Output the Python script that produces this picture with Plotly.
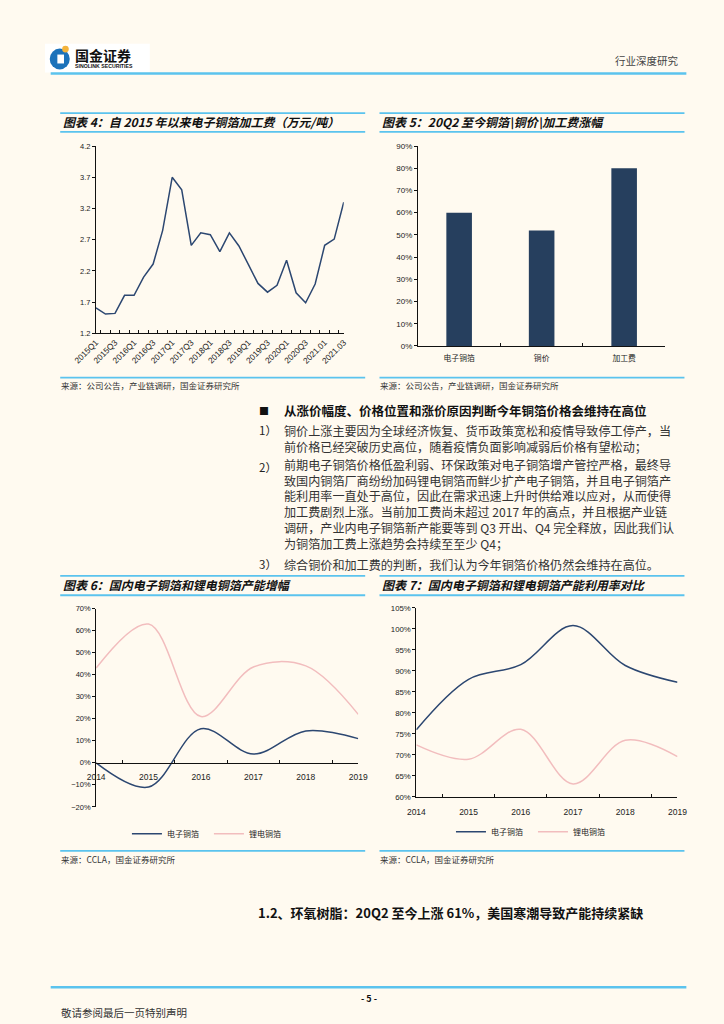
import plotly.graph_objects as go

W, H = 724, 1024
BG = "#FFFAF0"
RULE = "#5BC3EE"
NAVY = "#2C4771"
PINK = "#F2BDBE"
BAR = "#263F5E"
CJK = "Noto Sans CJK SC"
NUM = "Liberation Sans"


def px(x):
    return x / W


def py(y):
    return 1 - y / H


# ---------------- data ----------------
fee_quarters = ["2015Q1", "2015Q2", "2015Q3", "2015Q4", "2016Q1", "2016Q2", "2016Q3", "2016Q4",
                "2017Q1", "2017Q2", "2017Q3", "2017Q4", "2018Q1", "2018Q2", "2018Q3", "2018Q4",
                "2019Q1", "2019Q2", "2019Q3", "2019Q4", "2020Q1", "2020Q2", "2020Q3", "2020Q4",
                "2021.01", "2021.02", "2021.03"]
fee_values = [1.61, 1.51, 1.52, 1.81, 1.81, 2.10, 2.31, 2.85, 3.70, 3.50, 2.61, 2.81, 2.78, 2.51,
              2.81, 2.60, 2.30, 2.00, 1.86, 1.97, 2.37, 1.85, 1.69, 1.99, 2.61, 2.71, 3.30]
fee_ticks = [1.2, 1.7, 2.2, 2.7, 3.2, 3.7, 4.2]

rise_items = ["电子铜箔", "铜价", "加工费"]
rise_values = [0.60, 0.52, 0.80]

years = ["2014", "2015", "2016", "2017", "2018", "2019"]
growth_electronic = [0.0, -0.11, 0.155, 0.04, 0.145, 0.11]
growth_lithium = [0.43, 0.63, 0.21, 0.435, 0.44, 0.22]

util_electronic = [0.76, 0.88, 0.915, 1.008, 0.913, 0.873]
util_lithium = [0.724, 0.69, 0.761, 0.631, 0.735, 0.696]

series_names = ["电子铜箔", "锂电铜箔"]

fig = go.Figure()

# Chart 4
fig.add_trace(go.Scatter(x=fee_quarters, y=fee_values, mode="lines", line=dict(color=NAVY, width=1.5),
                         xaxis="x", yaxis="y", showlegend=False))
# Chart 5
fig.add_trace(go.Bar(x=rise_items, y=rise_values, marker=dict(color=BAR, line=dict(width=0)), width=0.31,
                     xaxis="x2", yaxis="y2", showlegend=False))
# Chart 6
fig.add_trace(go.Scatter(x=years, y=growth_electronic, mode="lines", name=series_names[0],
                         line=dict(color=NAVY, width=1.5, shape="spline", smoothing=1),
                         xaxis="x3", yaxis="y3", legend="legend"))
fig.add_trace(go.Scatter(x=years, y=growth_lithium, mode="lines", name=series_names[1],
                         line=dict(color=PINK, width=1.5, shape="spline", smoothing=1),
                         xaxis="x3", yaxis="y3", legend="legend"))
# Chart 7
fig.add_trace(go.Scatter(x=years, y=util_electronic, mode="lines", name=series_names[0],
                         line=dict(color=NAVY, width=1.5, shape="spline", smoothing=1),
                         xaxis="x4", yaxis="y4", legend="legend2"))
fig.add_trace(go.Scatter(x=years, y=util_lithium, mode="lines", name=series_names[1],
                         line=dict(color=PINK, width=1.5, shape="spline", smoothing=1),
                         xaxis="x4", yaxis="y4", legend="legend2"))


def tf(size, family=NUM):
    return dict(family=family, size=size, color="#222")


axis_common = dict(showline=True, linecolor="#111", linewidth=1, showgrid=False, zeroline=False,
                   tickcolor="#111", ticklen=3, fixedrange=True)

fig.update_layout(
    xaxis=dict(domain=[px(75.5), px(335.5)], anchor="y", type="category",
               tickvals=fee_quarters, ticktext=[q if i % 2 == 0 else "" for i, q in enumerate(fee_quarters)],
               tickangle=-45, ticks="inside", tickson="boundaries", tickfont=tf(8.3), **axis_common),
    yaxis=dict(domain=[py(332.3), py(143.3)], anchor="x", range=[1.2, 4.2], tickvals=fee_ticks,
               ticktext=[f"{v:.1f}" for v in fee_ticks], ticks="outside", tickfont=tf(7.5), **axis_common),
    xaxis2=dict(domain=[px(413.3), px(673)], anchor="y2", type="category", ticks="inside",
                tickson="boundaries", tickfont=tf(7.8, CJK), ticklabelstandoff=5, **axis_common),
    yaxis2=dict(domain=[py(345), py(143.3)], anchor="x2", range=[0, 0.9], dtick=0.1, tickformat=".0%",
                ticks="outside", tickfont=tf(8), **axis_common),
    xaxis3=dict(domain=[px(75.7), px(350.7)], anchor="free", position=py(765.7), type="category",
                ticks="inside", tickson="boundaries", tickfont=tf(8.5), ticklabelstandoff=6, **axis_common),
    yaxis3=dict(domain=[py(810), py(610)], anchor="x3", range=[-0.2, 0.7], dtick=0.1, tickformat=".0%",
                ticks="outside", tickfont=tf(7.5), **axis_common),
    xaxis4=dict(domain=[px(411.7), px(685.7)], anchor="y4", type="category", ticks="inside",
                tickson="boundaries", tickfont=tf(8.5), ticklabelstandoff=7, **axis_common),
    yaxis4=dict(domain=[py(800), py(609.3)], anchor="x4", range=[0.6, 1.05], dtick=0.05, tickformat=".0%",
                ticks="outside", tickfont=tf(7.8), **axis_common),
)

legend_common = dict(orientation="h", bgcolor="rgba(0,0,0,0)", font=dict(family=CJK, size=8, color="#222"),
                     entrywidth=37, entrywidthmode="pixels", itemwidth=30, yanchor="middle", xanchor="left",
                     tracegroupgap=0)
fig.update_layout(
    legend=dict(x=px(108), y=py(837), **legend_common),
    legend2=dict(x=px(448), y=py(835), **legend_common),
)

# ---------------- rules ----------------
shapes = []


def hline(x0, x1, y, w=1.8, color=RULE):
    shapes.append(dict(type="line", xref="paper", yref="paper", x0=px(x0), x1=px(x1), y0=py(y), y1=py(y),
                       line=dict(color=color, width=w)))


hline(28, 695, 70, 2.5)
for (a, b) in [(38, 358), (373, 693)]:
    hline(a, b, 110)
    hline(a, b, 129)
    hline(a, b, 377)
    hline(a, b, 577)
    hline(a, b, 596.5)
    hline(a, b, 854.3)
hline(28, 695, 992, 2.5)

# logo
shapes.append(dict(type="rect", xref="paper", yref="paper", x0=px(22), x1=px(132), y0=py(69), y1=py(40),
                   fillcolor="white", line=dict(width=0), layer="below"))
shapes.append(dict(type="circle", xref="paper", yref="paper", x0=px(27), x1=px(48), y0=py(66), y1=py(45),
                   fillcolor="#1B72BA", line=dict(width=0)))
shapes.append(dict(type="rect", xref="paper", yref="paper", x0=px(35), x1=px(42), y0=py(60), y1=py(51),
                   fillcolor="white", line=dict(width=0)))
shapes.append(dict(type="circle", xref="paper", yref="paper", x0=px(40), x1=px(47), y0=py(49), y1=py(42),
                   fillcolor="#F4B33A", line=dict(width=0)))
fig.update_layout(shapes=shapes)

# ---------------- text ----------------
ann = []


def text(x, y, s, size=9, color="#333", bold=False, italic=False, anchor="left", family=CJK):
    ann.append(dict(xref="paper", yref="paper", x=px(x), y=py(y), text=s, showarrow=False,
                    xanchor=anchor, yanchor="middle", borderpad=0, align="left",
                    font=dict(family=family, size=size, color=color, weight="bold" if bold else "normal",
                              style="italic" if italic else "normal")))


# header
text(52, 51, "国金证券", 14, "#111", bold=True)
text(52, 63, "SINOLINK SECURITIES", 5.2, "#111", bold=True, family=NUM)
text(688, 57, "行业深度研究", 10.5, "#444", anchor="right")

# chart titles
text(40, 119, "图表 4：自 2015 年以来电子铜箔加工费（万元/吨）", 12, "#111", bold=True, italic=True)
text(375, 119, "图表 5：20Q2 至今铜箔\\铜价\\加工费涨幅", 12, "#111", bold=True, italic=True)
text(40, 586, "图表 6：国内电子铜箔和锂电铜箔产能增幅", 12, "#111", bold=True, italic=True)
text(375, 586, "图表 7：国内电子铜箔和锂电铜箔产能利用率对比", 12, "#111", bold=True, italic=True)

# sources
text(38, 384, "来源：公司公告，产业链调研，国金证券研究所", 8.5)
text(373, 384, "来源：公司公告，产业链调研，国金证券研究所", 8.5)
text(38, 863, "来源：CCLA，国金证券研究所", 8.5)
text(373, 863, "来源：CCLA，国金证券研究所", 8.5)

# body text
text(246, 410, "■", 10, "#111")
text(272, 410, "从涨价幅度、价格位置和涨价原因判断今年铜箔价格会维持在高位", 12.5, "#111", bold=True)
paragraphs = [
    (438, "1）", ["铜价上涨主要因为全球经济恢复、货币政策宽松和疫情导致停工停产，当",
                 "前价格已经突破历史高位，随着疫情负面影响减弱后价格有望松动；"], 430),
    (504.5, "2）", ["前期电子铜箔价格低盈利弱、环保政策对电子铜箔增产管控严格，最终导",
                   "致国内铜箔厂商纷纷加码锂电铜箔而鲜少扩产电子铜箔，并且电子铜箔产",
                   "能利用率一直处于高位，因此在需求迅速上升时供给难以应对，从而使得",
                   "加工费剧烈上涨。当前加工费尚未超过 2017 年的高点，并且根据产业链",
                   "调研，产业内电子铜箔新产能要等到 Q3 开出、Q4 完全释放，因此我们认",
                   "为铜箔加工费上涨趋势会持续至至少 Q4；"], 467),
    (565, "3）", ["综合铜价和加工费的判断，我们认为今年铜箔价格仍然会维持在高位。"], 565),
]
for yc, num, lines, yfirst in paragraphs:
    text(246, yfirst, num, 11.5, "#222")
    text(272, yc, "<br>".join(lines), 12.1, "#333")

text(245, 917, "1.2、环氧树脂：20Q2 至今上涨 61%，美国寒潮导致产能持续紧缺", 13, "#111", bold=True)
text(362, 1003, "- 5 -", 9, "#111", bold=True, anchor="center")
text(38, 1017, "敬请参阅最后一页特别声明", 10.5, "#333")

fig.update_layout(annotations=ann, width=W, height=H, margin=dict(l=0, r=0, t=0, b=0),
                  paper_bgcolor=BG, plot_bgcolor=BG, bargap=0.69)

fig.write_html("out.html", config={"displayModeBar": False},
               post_script="document.body.style.margin='0px';document.body.style.background='" + BG + "';")
